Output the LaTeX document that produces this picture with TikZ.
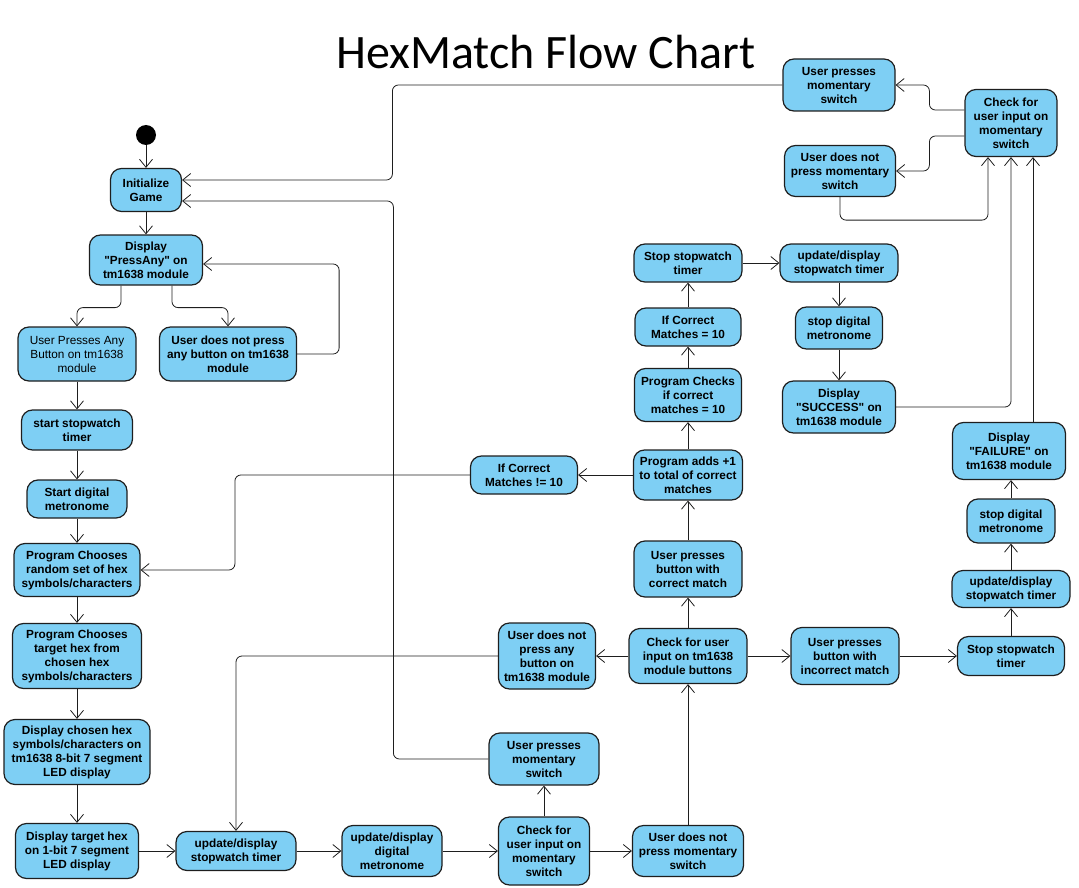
\documentclass[tikz,border=0pt]{standalone}
\usepackage{fontspec}
\usepackage{tikz}
\usetikzlibrary{arrows.meta}
\setmainfont{Liberation Sans}[Ligatures=TeXOff]
\newfontfamily\titlefont{Carlito}
\definecolor{actblue}{RGB}{126,207,244}
\definecolor{actline}{RGB}{30,30,30}

\begin{document}
\begin{tikzpicture}[x=1pt,y=-1pt]
  \tikzstyle{act}=[draw=actline,fill=actblue,rounded corners=11pt,line width=1.2pt,align=center,inner sep=1pt,font=\fontsize{11.8}{14}\selectfont\bfseries]
  \tikzstyle{flow}=[-{Straight Barb[length=8pt,width=13pt]},rounded corners=6pt,line width=0.8pt,draw=actline]
  \useasboundingbox (0,0) rectangle (1079,888);

  \node[font=\titlefont\fontsize{48}{52}\selectfont,anchor=base] (title) at (546,69) {HexMatch Flow Chart};

  \node[circle,fill=black,minimum size=20pt,inner sep=0pt] (start) at (146,135) {};
  \node[act,minimum width=71,minimum height=43] (init) at (146,190) {Initialize\\Game};
  \node[act,minimum width=113,minimum height=50] (pa) at (146,260) {Display\\"PressAny" on\\tm1638 module};
  \node[act,minimum width=118,minimum height=54,font=\fontsize{11.8}{14}\selectfont] (upa) at (77,354) {User Presses Any\\Button on tm1638\\module};
  \node[act,minimum width=137,minimum height=54] (unp) at (228,354) {User does not press\\any button on tm1638\\module};
  \node[act,minimum width=111,minimum height=40] (ssw) at (77,430) {start stopwatch\\timer};
  \node[act,minimum width=100,minimum height=38] (sdm) at (77,499) {Start digital\\metronome};
  \node[act,minimum width=126,minimum height=53] (pcr) at (77,570) {Program Chooses\\random set of hex\\symbols/characters};
  \node[act,minimum width=129,minimum height=65] (pct) at (77,656) {Program Chooses\\target hex from\\chosen hex\\symbols/characters};
  \node[act,minimum width=146,minimum height=65] (dch) at (77,752) {Display chosen hex\\symbols/characters on\\tm1638 8-bit 7 segment\\LED display};
  \node[act,minimum width=123,minimum height=55] (dth) at (77,851) {Display target hex\\on 1-bit 7 segment\\LED display};
  \node[act,minimum width=120,minimum height=39] (uds) at (236,851) {update/display\\stopwatch timer};
  \node[act,minimum width=100,minimum height=51] (udm) at (392,851) {update/display\\digital\\metronome};
  \node[act,minimum width=91,minimum height=68] (cms) at (544,851) {Check for\\user input on\\momentary\\switch};
  \node[act,minimum width=111,minimum height=51] (unm) at (688,851) {User does not\\press momentary\\switch};
  \node[act,minimum width=110,minimum height=52] (upm) at (544,759) {User presses\\momentary\\switch};
  \node[act,minimum width=118,minimum height=55] (cbt) at (688,656) {Check for user\\input on tm1638\\module buttons};
  \node[act,minimum width=97,minimum height=66] (una) at (547,656) {User does not\\press any\\button on\\tm1638 module};
  \node[act,minimum width=108,minimum height=57] (uinc) at (845,656) {User presses\\button with\\incorrect match};
  \node[act,minimum width=107,minimum height=39] (ssr) at (1011,656) {Stop stopwatch\\timer};
  \node[act,minimum width=118,minimum height=37] (udr) at (1011,589) {update/display\\stopwatch timer};
  \node[act,minimum width=88,minimum height=44] (sdr) at (1011,521) {stop digital\\metronome};
  \node[act,minimum width=113,minimum height=57] (fail) at (1009,451) {Display\\"FAILURE" on\\tm1638 module};
  \node[act,minimum width=108,minimum height=56] (ucor) at (688,569) {User presses\\button with\\correct match};
  \node[act,minimum width=109,minimum height=50] (padd) at (688,475) {Program adds +1\\to total of correct\\matches};
  \node[act,minimum width=107,minimum height=38] (ne10) at (524,475) {If Correct\\Matches != 10};
  \node[act,minimum width=107,minimum height=53] (pchk) at (688,395) {Program Checks\\if correct\\matches = 10};
  \node[act,minimum width=106,minimum height=38] (eq10) at (688,327) {If Correct\\Matches = 10};
  \node[act,minimum width=108,minimum height=38] (sst) at (688,263) {Stop stopwatch\\timer};
  \node[act,minimum width=118,minimum height=38] (udt) at (839,263) {update/display\\stopwatch timer};
  \node[act,minimum width=87,minimum height=42] (sdt) at (839,328) {stop digital\\metronome};
  \node[act,minimum width=113,minimum height=52] (succ) at (839,407) {Display\\"SUCCESS" on\\tm1638 module};
  \node[act,minimum width=92,minimum height=67] (cmt) at (1011,123) {Check for\\user input on\\momentary\\switch};
  \node[act,minimum width=112,minimum height=52] (upt) at (839,85) {User presses\\momentary\\switch};
  \node[act,minimum width=111,minimum height=51] (unt) at (840,171) {User does not\\press momentary\\switch};

  \draw[flow] (start) -- (init);
  \draw[flow] (init) -- (pa);
  \draw[flow] ([xshift=-25pt]pa.south) -- ++(0,22) -| (upa);
  \draw[flow] ([xshift=26pt]pa.south) -- ++(0,22) -| (unp);
  \draw[flow] (unp.east) -- ++(42,0) |- ([yshift=-4pt]pa.east);
  \draw[flow] (upa) -- (ssw);
  \draw[flow] (ssw) -- (sdm);
  \draw[flow] (sdm) -- (pcr);
  \draw[flow] (pcr) -- (pct);
  \draw[flow] (pct) -- (dch);
  \draw[flow] (dch) -- (dth);
  \draw[flow] (dth) -- (uds);
  \draw[flow] (uds) -- (udm);
  \draw[flow] (udm) -- (cms);
  \draw[flow] (cms) -- (unm);
  \draw[flow] (cms) -- (upm);
  \draw[flow] (unm) -- (cbt);
  \draw[flow] (upm.west) -- ++(-95,0) |- ([yshift=-11pt]init.east);
  \draw[flow] (cbt) -- (una);
  \draw[flow] (una.west) -| (uds);
  \draw[flow] (cbt) -- (uinc);
  \draw[flow] (uinc) -- (ssr);
  \draw[flow] (ssr) -- (udr);
  \draw[flow] (udr) -- (sdr);
  \draw[flow] (sdr) -- (fail.south -| sdr);
  \draw[flow] ([xshift=24pt]fail.north) -- ([xshift=24pt]fail.north |- cmt.south);
  \draw[flow] (cbt) -- (ucor);
  \draw[flow] (ucor) -- (padd);
  \draw[flow] (padd) -- (ne10);
  \draw[flow] (ne10.west) -- ++(-235,0) |- (pcr.east);
  \draw[flow] (padd) -- (pchk);
  \draw[flow] (pchk) -- (eq10);
  \draw[flow] (eq10) -- (sst);
  \draw[flow] (sst) -- (udt);
  \draw[flow] (udt) -- (sdt.north -| udt);
  \draw[flow] (sdt.south -| udt) -- (succ.north -| udt);
  \draw[flow] (succ.east) -| (cmt);
  \draw[flow] (unt.south) -- ++(0,23) -| ([xshift=-23pt]cmt.south);
  \draw[flow] ([yshift=13pt]cmt.west) -- ++(-35,0) |- (upt);
  \draw[flow] ([yshift=-13pt]cmt.west) -- ++(-35,0) |- (unt);
  \draw[flow] (upt.west) -- ++(-390,0) |- ([yshift=10pt]init.east);
\end{tikzpicture}
\end{document}
